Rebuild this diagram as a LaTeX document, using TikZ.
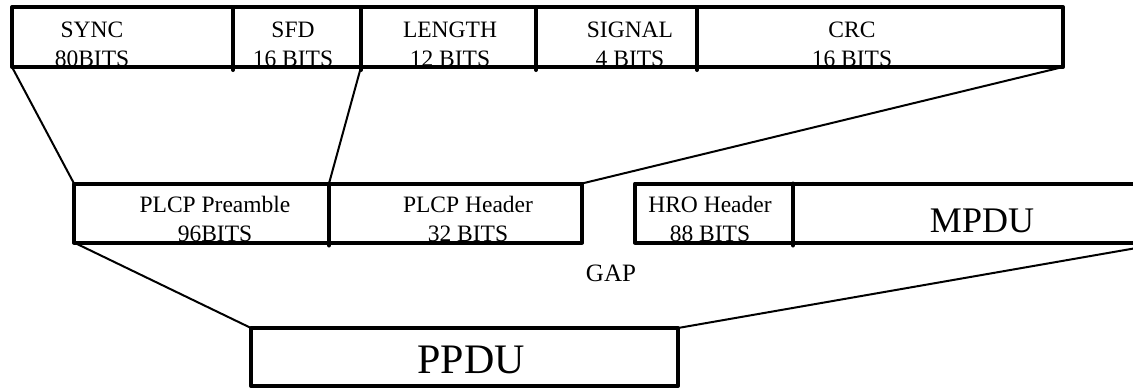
\documentclass[tikz,border=0pt]{standalone}
\usepackage{fontspec}
\setmainfont{Liberation Serif}
\begin{document}
\begin{tikzpicture}[x=1pt,y=-1pt,
  fld/.style={draw, line width=4pt, line join=round, inner sep=0pt, outer sep=0pt, anchor=north west},
  lbl/.style={font=\fontsize{23.5}{29}\selectfont, inner sep=0pt, anchor=base},
  biglbl/.style={inner sep=0pt, anchor=base},
  link/.style={line width=2pt},
  divider/.style={line width=4pt, line cap=round}]
\useasboundingbox (0,0) rectangle (1133,389);
\clip (0,0) rectangle (1133,389);
% ---- labels (drawn first so box lines overlap them)
\node[lbl] (tsync1) at (92,37) {SYNC};
\node[lbl] (tsync2) at (92,66) {80BITS};
\node[lbl] (tsfd1) at (293,37) {SFD};
\node[lbl] (tsfd2) at (293,66) {16 BITS};
\node[lbl] (tlen1) at (450,37) {LENGTH};
\node[lbl] (tlen2) at (450,66) {12 BITS};
\node[lbl] (tsig1) at (630,37) {SIGNAL};
\node[lbl] (tsig2) at (630,66) {4 BITS};
\node[lbl] (tcrc1) at (852,37) {CRC};
\node[lbl] (tcrc2) at (852,66) {16 BITS};
\node[lbl] (tpre1) at (215,212) {PLCP Preamble};
\node[lbl] (tpre2) at (215,241) {96BITS};
\node[lbl] (thdr1) at (468,212) {PLCP Header};
\node[lbl] (thdr2) at (468,241) {32 BITS};
\node[lbl] (thro1) at (710,212) {HRO Header};
\node[lbl] (thro2) at (710,241) {88 BITS};
\node[biglbl, font=\fontsize{36}{40}\selectfont] (tmpdu) at (982,232) {MPDU};
\node[biglbl, font=\fontsize{25}{30}\selectfont] (tgap) at (611,281) {GAP};
\node[biglbl, font=\fontsize{42}{48}\selectfont] (tppdu) at (471,373) {PPDU};
% ---- top row
\node[fld, minimum width=221pt, minimum height=60pt] (sync) at (12,7) {};
\node[fld, minimum width=128pt, minimum height=60pt] (sfd) at (233,7) {};
\node[fld, minimum width=175pt, minimum height=60pt] (len) at (361,7) {};
\node[fld, minimum width=161pt, minimum height=60pt] (sig) at (536,7) {};
\node[fld, minimum width=366pt, minimum height=60pt] (crc) at (697,7) {};
% ---- middle row
\node[fld, minimum width=255pt, minimum height=59pt] (pre) at (74,183.5) {};
\node[fld, minimum width=253pt, minimum height=59pt] (hdr) at (329,183.5) {};
\node[fld, minimum width=158pt, minimum height=59pt] (hro) at (635,183.5) {};
\node[fld, minimum width=375pt, minimum height=59pt] (mpdu) at (793,183.5) {};
% ---- bottom
\node[fld, minimum width=427pt, minimum height=58pt] (ppdu) at (251,328) {};
% ---- divider stubs
\foreach \n in {sfd,len,sig,crc,hdr,mpdu}
  \draw[divider] (\n.north west) -- ([yshift=-3pt]\n.south west);
% ---- connectors
\draw[link] (sync.south west) -- (pre.north west);
\draw[link] (sfd.south east) -- (hdr.north west);
\draw[link] (crc.south east) -- (hdr.north east);
\draw[link] (pre.south west) -- (ppdu.north west);
\draw[link] (mpdu.south east) -- (ppdu.north east);
\end{tikzpicture}
\end{document}
